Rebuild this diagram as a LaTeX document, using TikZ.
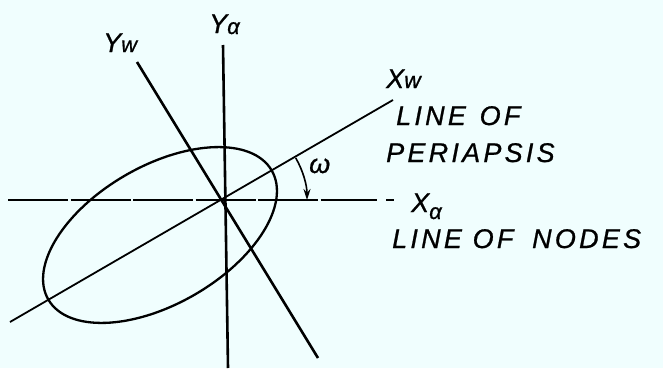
\documentclass[tikz,border=0pt]{standalone}
\usepackage{fontspec}
\newfontfamily\hand{Liberation Sans}[LetterSpace=12,FakeBold=0.8]
\usetikzlibrary{arrows.meta}
\definecolor{paper}{RGB}{240,254,254}
\begin{document}
\begin{tikzpicture}[x=1pt,y=1pt,
  lbl/.style={inner sep=0pt,anchor=base west,font=\hand\itshape\fontsize{27}{30}\selectfont},
  axis/.style={line width=2.6pt},
  thin axis/.style={line width=1.8pt}]
\fill[paper] (0,0) rectangle (663,368);
\useasboundingbox (0,0) rectangle (663,368);
\coordinate (O) at (223,168);
% line of nodes (dashed)
\coordinate (hL) at (8,168);
\coordinate (hR) at (377,168);
\draw[line width=1.6pt,dash pattern=on 60pt off 2.5pt] (hL) -- (hR);
\coordinate (hs1) at (386,168);
\coordinate (hs2) at (394,168);
\draw[line width=1.4pt] (hs1) -- (hs2);
% Y alpha axis
\coordinate (yaT) at (223,323);
\coordinate (yaB) at (228,0);
\draw[axis] (yaT) -- (yaB);
% Y w axis
\coordinate (ywT) at (137,306);
\coordinate (ywB) at (318,10);
\draw[axis] (ywT) -- (ywB);
% X w axis (line of periapsis)
\coordinate (xwL) at (10,46);
\coordinate (xwR) at (393,268);
\draw[thin axis] (xwL) -- (xwR);
% orbit ellipse
\coordinate (C) at (160,133);
\draw[line width=2.3pt,rotate around={30:(C)}] (C) ellipse [x radius=129,y radius=69];
% omega arc
\draw[line width=1.6pt,-{Stealth[length=11pt,width=7pt]}] (O) ++(30:84) arc[start angle=30,end angle=0,radius=84];
\node[lbl] (om) at (309,195) {ω};
% labels
\node[lbl] (lya) at (209,335) {Y\raisebox{-1pt}{\fontsize{22}{22}\selectfont α}};
\node[lbl] (lyw) at (103,316) {Y\fontsize{22}{22}\selectfont w};
\node[lbl] (lxw) at (386,280) {X\fontsize{23}{23}\selectfont w};
\node[lbl] (lp1) at (396,243) {LINE\hspace{3pt} OF};
\node[lbl] (lp2) at (386,206) {PERIAPSIS};
\node[lbl] (lxa) at (411,156) {X\raisebox{-7pt}{\fontsize{22}{22}\selectfont α}};
\node[lbl] (ln) at (392,120) {LINE OF\hspace{8pt} NODES};
\end{tikzpicture}
\end{document}
